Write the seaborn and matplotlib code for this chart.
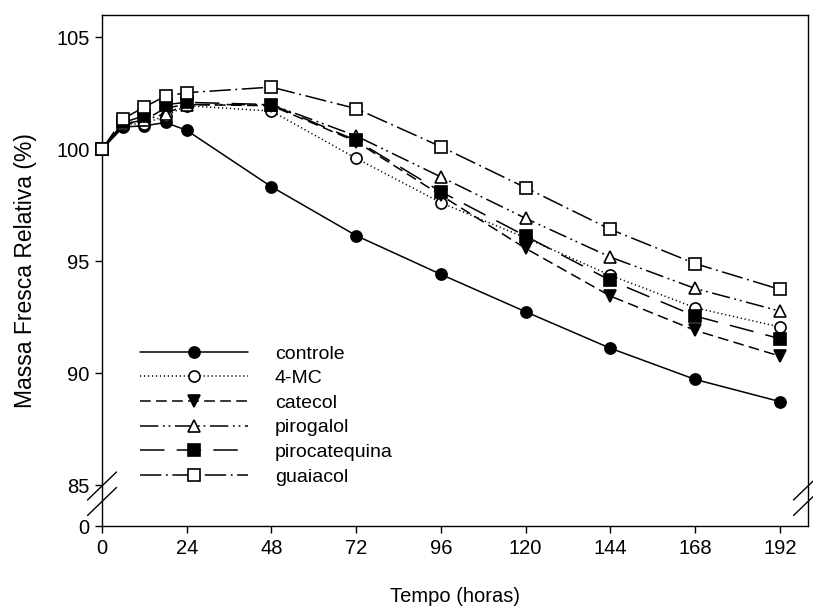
import numpy as np
import pandas as pd
import matplotlib
matplotlib.use("Agg")
import matplotlib.pyplot as plt
import seaborn as sns

# ---- data ----
tempo = [0, 6, 12, 18, 24, 48, 72, 96, 120, 144, 168, 192]
controle = [100.0, 101.0, 101.05, 101.2, 100.85, 98.33, 96.15, 94.42, 92.75, 91.12, 89.73, 88.74]
mc4 = [100.0, 101.1, 101.15, 101.5, 101.95, 101.71, 99.6, 97.62, 96.05, 94.38, 92.93, 92.07]
catecol = [100.0, 101.1, 101.3, 101.85, 102.0, 101.95, 100.35, 97.95, 95.58, 93.45, 91.92, 90.77]
pirogalol = [100.0, 101.15, 101.3, 101.6, 102.0, 102.0, 100.6, 98.77, 96.92, 95.19, 93.79, 92.78]
pirocatequina = [100.0, 101.2, 101.5, 102.0, 102.1, 102.0, 100.4, 98.11, 96.13, 94.15, 92.56, 91.55]
guaiacol = [100.0, 101.37, 101.89, 102.38, 102.53, 102.78, 101.82, 100.12, 98.29, 96.43, 94.9, 93.75]

series_names = ["controle", "4-MC", "catecol", "pirogalol", "pirocatequina", "guaiacol"]
series_values = [controle, mc4, catecol, pirogalol, pirocatequina, guaiacol]
x_ticks = [0, 24, 48, 72, 96, 120, 144, 168, 192]
y_ticks = [0, 85, 90, 95, 100, 105]

rows = []
for name, vals in zip(series_names, series_values):
    for t, v in zip(tempo, vals):
        rows.append({"Tempo": t, "Massa": v, "Tratamento": name})
df = pd.DataFrame(rows)

# ---- style ----
sns.set_style("ticks")
plt.rcParams["font.family"] = ["Liberation Sans", "DejaVu Sans"]
plt.rcParams["font.size"] = 14
plt.rcParams["text.color"] = "black"
plt.rcParams["axes.labelcolor"] = "black"
plt.rcParams["xtick.color"] = "black"
plt.rcParams["ytick.color"] = "black"
plt.rcParams["axes.edgecolor"] = "black"

fig = plt.figure(figsize=(8.13, 6.08), dpi=100)
ax = fig.add_axes([102 / 813, 1 - 526 / 608, 706 / 813, 511 / 608])

# broken y axis: compress 0..85 into a small band
K = 0.02138
def fwd(y):
    y = np.asarray(y, dtype=float)
    return np.where(y >= 85, y, 85 - (85 - y) * K)
def inv(u):
    u = np.asarray(u, dtype=float)
    return np.where(u >= 85, u, 85 - (85 - u) / K)
ax.set_yscale("function", functions=(fwd, inv))

styles = {
    "controle": dict(marker="o", mfc="black", ls="-", ms=8),
    "4-MC": dict(marker="o", mfc="white", ls=(0, (0.8, 1.8)), ms=8),
    "catecol": dict(marker="v", mfc="black", ls=(0, (7, 3.5)), ms=9),
    "pirogalol": dict(marker="^", mfc="white", ls=(0, (12, 3, 1.2, 2.5, 1.2, 3)), ms=9),
    "pirocatequina": dict(marker="s", mfc="black", ls=(0, (16, 8)), ms=8),
    "guaiacol": dict(marker="s", mfc="white", ls=(0, (14, 3, 1.2, 3)), ms=8),
}

for name in series_names:
    st = styles[name]
    sub = df[df["Tratamento"] == name]
    sns.lineplot(data=sub, x="Tempo", y="Massa", ax=ax, color="black",
                 marker=st["marker"], markerfacecolor=st["mfc"],
                 markeredgecolor="black", markeredgewidth=1.2,
                 markersize=st["ms"], linestyle=st["ls"], linewidth=1.1,
                 label=name, clip_on=False, zorder=3)

ax.set_xlim(0, 200)
ax.set_ylim(0, 106)
ax.set_xticks(x_ticks)
ax.set_xticklabels([str(v) for v in x_ticks])
ax.set_yticks(y_ticks)
ax.set_yticklabels([str(v) for v in y_ticks])
ax.minorticks_off()
ax.tick_params(axis="both", direction="out", length=5, width=1, labelsize=14.5,
               color="black", labelcolor="black", pad=4, top=False, right=False)

for s in ax.spines.values():
    s.set_visible(True)
    s.set_linewidth(1.0)
    s.set_color("black")

ax.set_xlabel("Tempo (horas)", fontsize=14.5, labelpad=21)
ax.set_ylabel("Massa Fresca Relativa (%)", fontsize=16.5, labelpad=14)

# break marks on left and right spines
for xc in (102, 808):
    for yc in (486, 501.5):
        x0, y0 = xc - 14.5, yc + 14
        x1, y1 = xc + 14.5, yc - 14
        fig.add_artist(plt.Line2D([x0 / 813, x1 / 813], [1 - y0 / 608, 1 - y1 / 608],
                                  transform=fig.transFigure, color="black", lw=1.0))

leg = ax.legend(loc="upper left", bbox_to_anchor=(38 / 706, (526 - 345) / 511),
                frameon=False, fontsize=14, handlelength=5.55, handletextpad=1.39,
                labelspacing=0.36, borderpad=0, borderaxespad=0)

fig.savefig("out.png", dpi=100)
